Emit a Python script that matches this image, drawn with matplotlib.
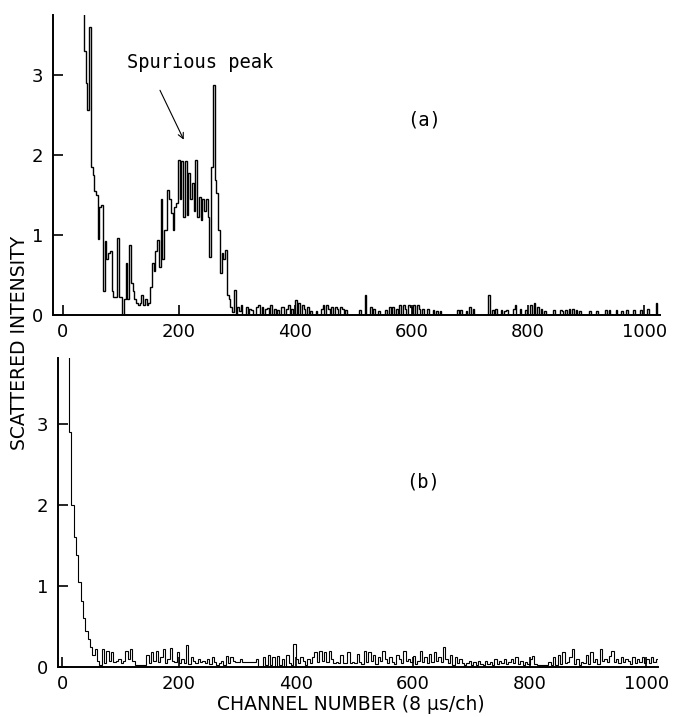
import numpy as np
import matplotlib.pyplot as plt

# ---- panel (a): 3-channel bins, channels 0..309 (first bins are off-scale)
a_bin = 3
a_main = [4.5, 4.5, 4.5, 4.5, 4.5, 4.5, 4.5, 4.5, 4.5, 4.5, 4.5, 4.5,
          3.3, 2.9, 2.56, 3.6, 1.85, 1.75, 1.55, 1.5, 0.95, 1.35, 1.37, 0.3,
          0.93, 0.7, 0.77, 0.8, 0.3, 0.23, 0.23, 0.96, 0.23, 0.23, 0.0, 0.2,
          0.65, 0.2, 0.87, 0.4, 0.3, 0.2, 0.15, 0.12, 0.15, 0.25, 0.12, 0.2,
          0.12, 0.15, 0.35, 0.65, 0.55, 0.8, 0.94, 0.6, 1.45, 0.7, 1.06, 1.06,
          1.56, 1.45, 1.27, 1.06, 1.35, 1.4, 1.94, 1.45, 1.92, 1.23, 1.92, 1.25,
          1.77, 1.45, 1.65, 1.3, 1.94, 1.23, 1.48, 1.19, 1.45, 1.3, 1.45, 1.23,
          0.73, 1.85, 2.88, 1.69, 1.52, 1.06, 0.52, 0.77, 0.7, 0.81, 0.25, 0.2,
          0.1, 0.04, 0.31, 0.0, 0.1, 0.05, 0.12, 0.0]
# isolated spikes on the zero baseline beyond channel 312
a_spike_ch = [316, 322, 326, 333, 338, 344, 348, 352, 359, 365, 370, 376, 379,
              384, 388, 394, 399, 405, 411, 416, 420, 428, 437, 444, 448, 454,
              458, 462, 468, 472, 477, 482, 488, 511, 520, 528, 534, 545, 556,
              563, 568, 574, 580, 586, 590, 594, 598, 603, 609, 614, 620, 628,
              637, 642, 649, 678, 686, 694, 700, 706, 732, 740, 744, 755, 760,
              764, 775, 778, 787, 796, 804, 812, 818, 824, 830, 844, 855, 860,
              864, 870, 876, 884, 890, 907, 920, 933, 941, 953, 960, 970, 982,
              993, 1005, 1022]
a_spike_h = [0.1, 0.08, 0.06, 0.1, 0.12, 0.1, 0.07, 0.09, 0.12, 0.08, 0.06, 0.1, 0.1,
             0.08, 0.12, 0.07, 0.19, 0.15, 0.12, 0.08, 0.1, 0.05, 0.05, 0.07, 0.12, 0.12,
             0.08, 0.1, 0.1, 0.07, 0.1, 0.08, 0.06, 0.06, 0.25, 0.1, 0.08, 0.05, 0.06,
             0.1, 0.1, 0.07, 0.12, 0.12, 0.08, 0.12, 0.1, 0.13, 0.12, 0.07, 0.08, 0.08,
             0.06, 0.05, 0.05, 0.06, 0.06, 0.05, 0.1, 0.08, 0.25, 0.06, 0.08, 0.06, 0.05,
             0.06, 0.08, 0.12, 0.08, 0.06, 0.12, 0.15, 0.1, 0.08, 0.05, 0.06, 0.06, 0.05,
             0.06, 0.07, 0.07, 0.06, 0.05, 0.05, 0.05, 0.06, 0.06, 0.06, 0.05, 0.06, 0.06,
             0.06, 0.08, 0.15]
a_last_ch = 1026

# ---- panel (b): 4-channel bins
b_bin = 4
b_decay = [4.5, 4.5, 4.5, 2.9, 2.0, 1.6, 1.38, 1.05, 0.82, 0.6,
           0.45, 0.35, 0.25, 0.15, 0.22, 0.08, 0.02, 0.22, 0.05, 0.2]
b_noise = [0.08, 0.18, 0.06, 0.08, 0.1, 0.05, 0.08, 0.2, 0.1, 0.22,
           0.08, 0.03, 0.03, 0.03, 0.03, 0.03, 0.15, 0.05, 0.18, 0.08,
           0.2, 0.06, 0.12, 0.22, 0.05, 0.1, 0.24, 0.08, 0.06, 0.18,
           0.05, 0.1, 0.05, 0.27, 0.04, 0.12, 0.08, 0.05, 0.1, 0.06,
           0.08, 0.05, 0.1, 0.04, 0.12, 0.06, 0.03, 0.05, 0.08, 0.03,
           0.14, 0.05, 0.12, 0.08, 0.06, 0.06, 0.1, 0.06, 0.06, 0.06,
           0.06, 0.06, 0.06, 0.1, 0.0, 0.0, 0.12, 0.02, 0.15, 0.02,
           0.12, 0.0, 0.14, 0.03, 0.1, 0.0, 0.15, 0.05, 0.02, 0.29,
           0.1, 0.05, 0.12, 0.08, 0.03, 0.1, 0.05, 0.12, 0.18, 0.06,
           0.2, 0.08, 0.18, 0.06, 0.2, 0.1, 0.05, 0.06, 0.05, 0.15,
           0.05, 0.05, 0.18, 0.05, 0.06, 0.05, 0.16, 0.06, 0.04, 0.2,
           0.06, 0.18, 0.08, 0.15, 0.04, 0.12, 0.07, 0.2, 0.1, 0.05,
           0.12, 0.06, 0.04, 0.15, 0.1, 0.05, 0.2, 0.08, 0.1, 0.06,
           0.14, 0.04, 0.08, 0.2, 0.06, 0.12, 0.05, 0.16, 0.06, 0.18,
           0.08, 0.12, 0.06, 0.25, 0.1, 0.05, 0.15, 0.03, 0.12, 0.05,
           0.1, 0.05, 0.03, 0.05, 0.08, 0.03, 0.06, 0.03, 0.07, 0.04,
           0.03, 0.08, 0.04, 0.06, 0.03, 0.1, 0.04, 0.08, 0.05, 0.1,
           0.04, 0.06, 0.1, 0.05, 0.12, 0.04, 0.08, 0.03, 0.06, 0.04,
           0.1, 0.14, 0.04, 0.02, 0.02, 0.02, 0.02, 0.02, 0.06, 0.03,
           0.12, 0.03, 0.15, 0.04, 0.18, 0.05, 0.06, 0.12, 0.22, 0.04,
           0.1, 0.03, 0.06, 0.05, 0.15, 0.04, 0.18, 0.06, 0.1, 0.04,
           0.22, 0.08, 0.1, 0.06, 0.14, 0.2, 0.06, 0.1, 0.05, 0.12,
           0.06, 0.1, 0.08, 0.04, 0.12, 0.05, 0.1, 0.06, 0.12, 0.05,
           0.1, 0.05, 0.12, 0.06, 0.1,
           0.0]

x_ticks = [0, 200, 400, 600, 800, 1000]
y_ticks = [0, 1, 2, 3]

# build step arrays
a_vals = np.zeros(a_last_ch // a_bin)
a_vals[:len(a_main)] = a_main
for ch, h in zip(a_spike_ch, a_spike_h):
    a_vals[ch // a_bin] = h
a_edges = np.arange(len(a_vals) + 1) * a_bin

b_vals = np.array(b_decay + b_noise)
b_edges = np.arange(len(b_vals) + 1) * b_bin

fig = plt.figure(figsize=(6.75, 7.17), dpi=100)
ax_a = fig.add_axes([0.0785, 0.5607, 0.899, 0.4184])
ax_b = fig.add_axes([0.0859, 0.0697, 0.889, 0.431])


def style_axis(ax, xlim, ylim):
    for side in ['top', 'right']:
        ax.spines[side].set_visible(False)
    for side in ['left', 'bottom']:
        ax.spines[side].set_linewidth(1.4)
    ax.set_xlim(*xlim)
    ax.set_ylim(*ylim)
    ax.set_xticks(x_ticks)
    ax.set_yticks(y_ticks)
    ax.tick_params(direction='in', length=7, width=1.2, labelsize=13)
    ax.tick_params(axis='x', pad=6)
    ax.tick_params(axis='y', pad=7)


ax_a.stairs(a_vals, a_edges, baseline=None, color='black', lw=1.0)
style_axis(ax_a, (-17, 1027), (0, 3.75))
ax_a.annotate('', xy=(210, 2.16), xytext=(165, 2.84),
              arrowprops=dict(arrowstyle='->', color='black', lw=0.8))
ax_a.text(236, 3.16, 'Spurious peak', family='DejaVu Sans Mono', fontsize=13.5,
          ha='center', va='center')
ax_a.text(621, 2.44, '(a)', family='DejaVu Sans Mono', fontsize=13.5,
          ha='center', va='center')

ax_b.stairs(b_vals, b_edges, baseline=None, color='black', lw=0.8)
style_axis(ax_b, (-7, 1020), (0, 3.81))
ax_b.text(618, 2.28, '(b)', family='DejaVu Sans Mono', fontsize=13.5,
          ha='center', va='center')

fig.text(20 / 675, 1 - 343 / 717, 'SCATTERED INTENSITY', rotation=90,
         fontsize=13.5, ha='center', va='center')
fig.text(351 / 675, 1 - 705 / 717, 'CHANNEL NUMBER (8 µs/ch)',
         fontsize=13.5, ha='center', va='center')

fig.savefig('out.png', dpi=100)
